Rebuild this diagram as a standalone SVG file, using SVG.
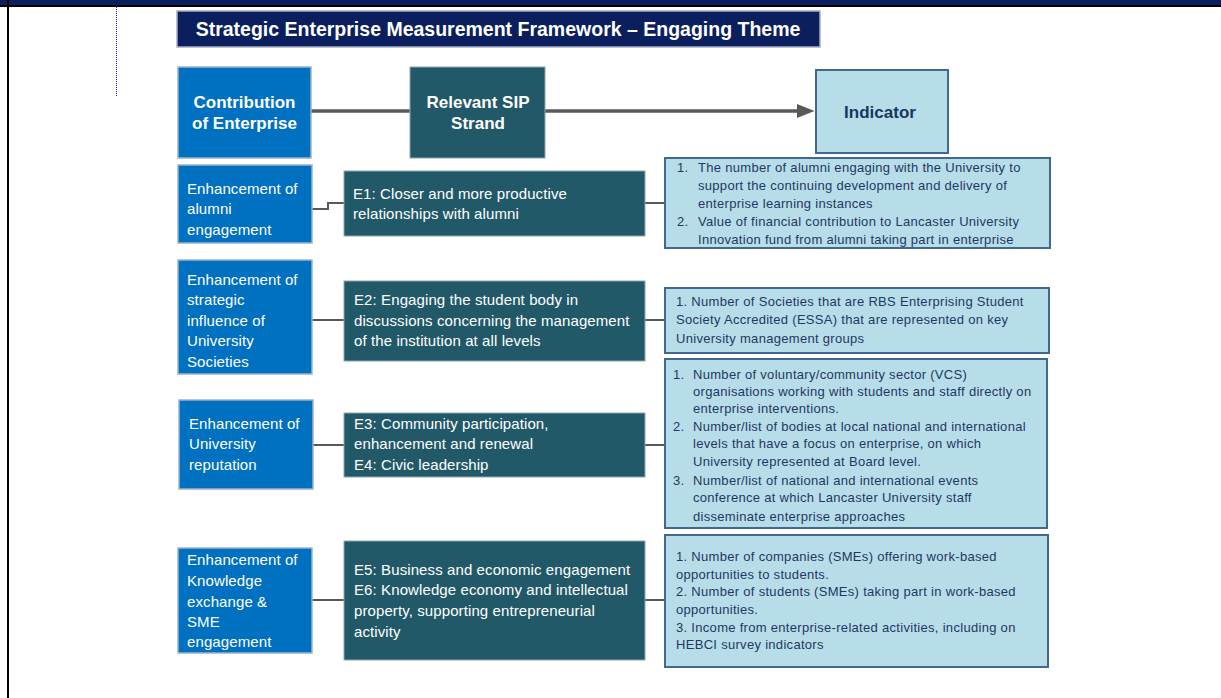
<svg xmlns="http://www.w3.org/2000/svg" width="1221" height="698" viewBox="0 0 1221 698">
<defs>
<style>
.blue{fill:#0070C0;stroke:#9DB3C9;stroke-width:1.5}
.teal{fill:#215968;stroke:#8FA6B0;stroke-width:1}
.ind{fill:#B7DDE8;stroke:#41688F;stroke-width:2}
.hd{font-family:"Liberation Sans",Arial,sans-serif;font-weight:bold;font-size:17px;fill:#FFFFFF}
.lt{font-family:"Liberation Sans",Arial,sans-serif;font-size:15px;letter-spacing:0.1px;fill:#FFFFFF}
.it{font-family:"Liberation Sans",Arial,sans-serif;font-size:13px;letter-spacing:0.3px;fill:#1F3864}
.con{fill:none;stroke:#595959;stroke-width:2}
.thick{stroke-width:3.5}
</style>
<marker id="arr" markerWidth="5" markerHeight="4" refX="0" refY="2" orient="auto" markerUnits="strokeWidth">
<path d="M0,0 L5,2 L0,4 Z" fill="#595959"/>
</marker>
</defs>
<rect width="1221" height="698" fill="#FFFFFF"/>
<rect x="0" y="0" width="1221" height="5" fill="#0A1F5E"/>
<rect x="0" y="5" width="1221" height="2" fill="#000000"/>
<rect x="7" y="0" width="2" height="698" fill="#000000"/>
<line x1="116.5" y1="7" x2="116.5" y2="96" stroke="#2020B0" stroke-width="1" stroke-dasharray="1,1"/>

<g id="title">
<rect x="177" y="11" width="643" height="36" fill="#0B1F5E" stroke="#A7AFC4" stroke-width="1.5"/>
<text x="498" y="36" text-anchor="middle" font-family="Liberation Sans, Arial, sans-serif" font-weight="bold" font-size="19.5" fill="#FFFFFF">Strategic Enterprise Measurement Framework – Engaging Theme</text>
</g>

<g id="connectors">
<path class="con thick" d="M311 111 H410"/>
<path class="con thick" d="M545 111 H797" marker-end="url(#arr)"/>
<path class="con" d="M312 209 H328 V203 H344"/>
<path class="con" d="M645 203 H665"/>
<path class="con" d="M312 320 H344"/>
<path class="con" d="M645 320 H665"/>
<path class="con" d="M313 445 H344"/>
<path class="con" d="M645 445 H665"/>
<path class="con" d="M312 600 H344"/>
<path class="con" d="M645 600 H665"/>
</g>

<g id="contribution-header">
<rect class="blue" x="178" y="67" width="133" height="91"/>
<text class="hd" x="244.5" y="108" text-anchor="middle">Contribution</text>
<text class="hd" x="244.5" y="129" text-anchor="middle">of Enterprise</text>
</g>
<g id="sip-header">
<rect class="teal" x="410" y="67" width="135" height="91"/>
<text class="hd" x="478" y="108" text-anchor="middle">Relevant SIP</text>
<text class="hd" x="478" y="129" text-anchor="middle">Strand</text>
</g>
<g id="indicator-header">
<rect class="ind" x="816" y="70" width="132" height="83"/>
<text class="hd" x="880" y="118" text-anchor="middle" style="fill:#17375E">Indicator</text>
</g>

<g id="row1-contribution">
<rect class="blue" x="178" y="165" width="134" height="78"/>
<text class="lt" x="187" y="194">Enhancement of</text>
<text class="lt" x="187" y="214">alumni</text>
<text class="lt" x="187" y="235">engagement</text>
</g>
<g id="row1-strand">
<rect class="teal" x="344" y="171" width="301" height="65"/>
<text class="lt" x="353" y="199">E1: Closer and more productive</text>
<text class="lt" x="353" y="219">relationships with alumni</text>
</g>
<g id="row1-indicator">
<rect class="ind" x="665" y="158" width="385" height="90"/>
<text class="it" x="677" y="172">1.</text>
<text class="it" x="698" y="172">The number of alumni engaging with the University to</text>
<text class="it" x="698" y="190">support the continuing development and delivery of</text>
<text class="it" x="698" y="208">enterprise learning instances</text>
<text class="it" x="677" y="226">2.</text>
<text class="it" x="698" y="226">Value of financial contribution to Lancaster University</text>
<text class="it" x="698" y="244">Innovation fund from alumni taking part  in enterprise</text>
</g>

<g id="row2-contribution">
<rect class="blue" x="178" y="260" width="134" height="114"/>
<text class="lt" x="187" y="285">Enhancement of</text>
<text class="lt" x="187" y="305">strategic</text>
<text class="lt" x="187" y="326">influence of</text>
<text class="lt" x="187" y="346">University</text>
<text class="lt" x="187" y="367">Societies</text>
</g>
<g id="row2-strand">
<rect class="teal" x="344" y="281" width="301" height="80"/>
<text class="lt" x="354" y="305">E2: Engaging the student body in</text>
<text class="lt" x="354" y="326">discussions concerning the management</text>
<text class="lt" x="354" y="346">of the institution at all levels</text>
</g>
<g id="row2-indicator">
<rect class="ind" x="665" y="288" width="384" height="65"/>
<text class="it" x="676" y="306">1. Number of Societies that are RBS Enterprising Student</text>
<text class="it" x="676" y="324">Society Accredited (ESSA) that are represented on key</text>
<text class="it" x="676" y="343">University management groups</text>
</g>

<g id="row3-contribution">
<rect class="blue" x="179" y="400" width="134" height="89"/>
<text class="lt" x="189" y="429">Enhancement of</text>
<text class="lt" x="189" y="449">University</text>
<text class="lt" x="189" y="470">reputation</text>
</g>
<g id="row3-strand">
<rect class="teal" x="344" y="413" width="301" height="64"/>
<text class="lt" x="354" y="429">E3: Community participation,</text>
<text class="lt" x="354" y="449">enhancement and renewal</text>
<text class="lt" x="354" y="470">E4: Civic leadership</text>
</g>
<g id="row3-indicator">
<rect class="ind" x="665" y="359" width="382" height="169"/>
<text class="it" x="673" y="379">1.</text>
<text class="it" x="693" y="379">Number of voluntary/community sector (VCS)</text>
<text class="it" x="693" y="396">organisations working with students  and staff directly on</text>
<text class="it" x="693" y="413">enterprise interventions.</text>
<text class="it" x="673" y="431">2.</text>
<text class="it" x="693" y="431">Number/list of bodies at local national and international</text>
<text class="it" x="693" y="448">levels that have a focus on enterprise, on which</text>
<text class="it" x="693" y="466">University represented at Board level.</text>
<text class="it" x="673" y="485">3.</text>
<text class="it" x="693" y="485">Number/list of national and international events</text>
<text class="it" x="693" y="502">conference at which Lancaster University staff</text>
<text class="it" x="693" y="521">disseminate enterprise approaches</text>
</g>

<g id="row4-contribution">
<rect class="blue" x="178" y="548" width="134" height="105"/>
<text class="lt" x="187" y="565">Enhancement of</text>
<text class="lt" x="187" y="586">Knowledge</text>
<text class="lt" x="187" y="607">exchange &amp;</text>
<text class="lt" x="187" y="627">SME</text>
<text class="lt" x="187" y="647">engagement</text>
</g>
<g id="row4-strand">
<rect class="teal" x="344" y="541" width="301" height="119"/>
<text class="lt" x="354" y="575">E5: Business and economic engagement</text>
<text class="lt" x="354" y="595">E6: Knowledge economy and intellectual</text>
<text class="lt" x="354" y="616">property, supporting entrepreneurial</text>
<text class="lt" x="354" y="637">activity</text>
</g>
<g id="row4-indicator">
<rect class="ind" x="665" y="535" width="383" height="132"/>
<text class="it" x="676" y="561">1. Number of companies (SMEs) offering work-based</text>
<text class="it" x="676" y="579">opportunities to students.</text>
<text class="it" x="676" y="596">2. Number of students (SMEs) taking part in work-based</text>
<text class="it" x="676" y="614">opportunities.</text>
<text class="it" x="676" y="632">3. Income from enterprise-related activities, including on</text>
<text class="it" x="676" y="649">HEBCI survey indicators</text>
</g>
</svg>
